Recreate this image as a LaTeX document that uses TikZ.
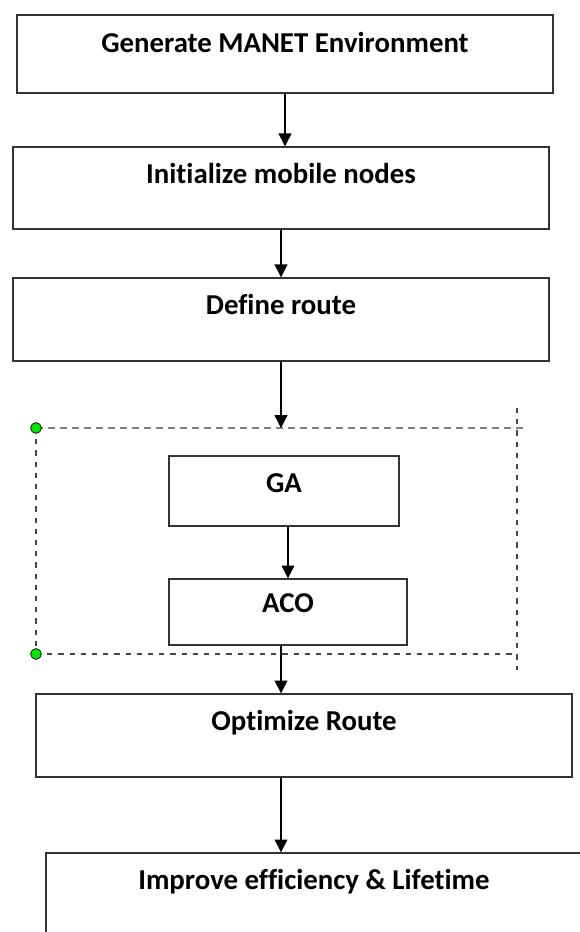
\documentclass[tikz,border=0pt]{standalone}
\usepackage{fontspec}
\setmainfont{Carlito}[Ligatures=NoCommon]
\usetikzlibrary{arrows.meta}
\definecolor{BoxGray}{RGB}{51, 51, 51}
\definecolor{FrameGray}{RGB}{68, 68, 68}
\definecolor{FrameLight}{RGB}{128, 128, 128}
\definecolor{HandleGreen}{RGB}{0, 230, 0}

\begin{document}
\begin{tikzpicture}[
    stepbox/.style={draw=BoxGray, line width=1pt, inner sep=0pt, minimum width=13.4cm, text height=0.9cm, font=\fontsize{20.5}{24}\selectfont\bfseries},
    flow/.style={draw=black, line width=0.9pt, -{Triangle[width=0.32cm, length=0.32cm]}},
    frame/.style={draw=FrameGray, line width=0.9pt, dash pattern=on 0.13cm off 0.15cm},
    handle/.style={circle, draw=black, line width=0.5pt, fill=HandleGreen, inner sep=0pt, minimum size=0.27cm}
]
    \clip (0,0) rectangle (14.5,-23.3);
    \fill[white] (0,0) rectangle (14.5,-23.3);

    % Main steps
    \node[stepbox, text height=0.95cm, text depth=1.0cm] (manet) at (7.125,-1.35) {Generate MANET Environment};
    \node[stepbox, text depth=1.15cm] (init) at (7.025,-4.7) {Initialize mobile nodes};
    \node[stepbox, text depth=1.175cm] (route) at (7.025,-7.9875) {Define route};

    % Hybrid GA / ACO block
    \node[stepbox, minimum width=5.75cm, text depth=0.85cm] (ga) at (7.1,-12.275) {GA};
    \node[stepbox, minimum width=5.95cm, text height=0.825cm, text depth=0.825cm] (aco) at (7.2,-15.3) {ACO};

    % Result steps
    \node[stepbox, text depth=1.175cm] (optim) at (7.6,-18.3875) {Optimize Route};
    \node[stepbox, text depth=2.0cm] (improve) at (7.85,-22.775) {Improve efficiency \& Lifetime};

    % Selection frame
    \coordinate (topleft) at (0.9,-10.7);
    \coordinate (botleft) at (0.9,-16.35);
    \coordinate (topright) at (13.2,-10.7);
    \coordinate (rightup) at (12.925,-10.2);
    \coordinate (rightdown) at (12.925,-16.75);
    \draw[draw=FrameLight, line width=2pt, dash pattern=on 0.17cm off 0.13cm] (topleft) -- (topright);
    \draw[frame] (topleft) -- (botleft);
    \draw[frame] (botleft) -- (botleft -| rightup);
    \draw[frame] (rightup) -- (rightdown);
    \node[handle] at (topleft) {};
    \node[handle] at (botleft) {};

    % Arrows
    \draw[flow] (manet.south) -- (manet.south |- init.north);
    \draw[flow] (init.south) -- (route.north);
    \draw[flow] (route.south) -- (route.south |- topleft);
    \draw[flow] (aco.north |- ga.south) -- (aco.north);
    \draw[flow] (aco.south -| route.south) -- (optim.north -| route.south);
    \draw[flow] (optim.south -| route.south) -- (improve.north -| route.south);
\end{tikzpicture}
\end{document}
